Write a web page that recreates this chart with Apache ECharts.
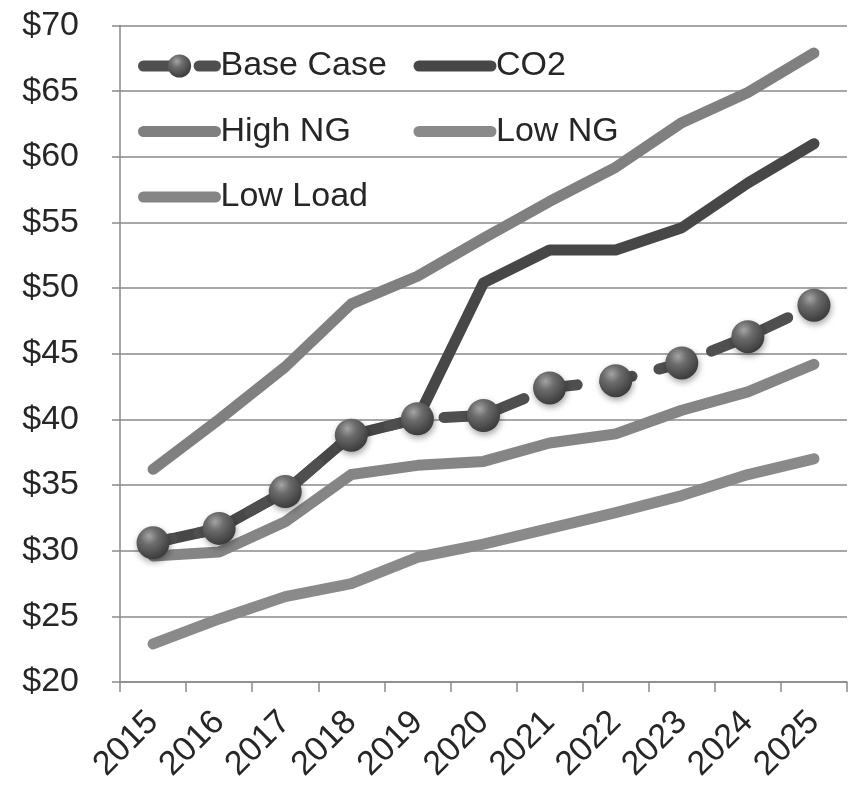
<!DOCTYPE html>
<html>
<head>
<meta charset="utf-8">
<script src="https://cdn.jsdelivr.net/npm/echarts@6/dist/echarts.min.js"></script>
<style>
  html, body { margin: 0; padding: 0; background: #ffffff; }
  #chart { width: 849px; height: 787px; }
</style>
</head>
<body>
<div id="chart"></div>
<script>
// Wholesale price forecasts by scenario, $/MWh
const years = ['2015', '2016', '2017', '2018', '2019', '2020', '2021', '2022', '2023', '2024', '2025'];
const baseCase = [30.6, 31.7, 34.5, 38.8, 40.05, 40.3, 42.4, 42.95, 44.3, 46.3, 48.7];
const co2 = [30.6, 31.7, 34.5, 38.8, 40.05, 50.4, 52.9, 52.9, 54.6, 58.0, 61.0];
const highNG = [36.2, 40.0, 44.0, 48.8, 50.9, 53.8, 56.6, 59.2, 62.6, 64.9, 67.9];
const lowNG = [22.9, 24.8, 26.5, 27.5, 29.5, 30.5, 31.7, 32.9, 34.2, 35.8, 37.0];
const lowLoad = [29.6, 29.9, 32.2, 35.8, 36.5, 36.8, 38.2, 38.9, 40.7, 42.1, 44.2];
const yTicks = { min: 20, max: 70, step: 5 };

const FONT = '"Liberation Sans", Arial, sans-serif';
const LINE_W = 11;

// shaded ball used for the Base Case markers
const ball = {
  type: 'radial', x: 0.38, y: 0.3, r: 0.75,
  colorStops: [
    { offset: 0, color: '#a4a4a4' },
    { offset: 0.35, color: '#6c6c6c' },
    { offset: 0.8, color: '#474747' },
    { offset: 1, color: '#383838' }
  ]
};

function plainLine(name, data, color) {
  return {
    name, type: 'line', data, symbol: 'none',
    lineStyle: { color, width: LINE_W, cap: 'round', join: 'round' },
    itemStyle: { color },
    emphasis: { disabled: true }
  };
}

const chart = echarts.init(document.getElementById('chart'), null, { renderer: 'canvas' });

const legendCommon = {
  orient: 'vertical',
  top: 44,
  itemWidth: 72,
  itemHeight: 29,
  itemGap: 31.5,
  selectedMode: false,
  textStyle: { fontFamily: FONT, fontSize: 34, color: '#262626' },
  lineStyle: { width: LINE_W, dashOffset: 0 }
};
const hideMark = { opacity: 0 };

chart.setOption({
  animation: false,
  backgroundColor: '#ffffff',
  grid: { left: 120, right: 2, top: 25.5, bottom: 105, containLabel: false },
  legend: [
    Object.assign({}, legendCommon, {
      left: 133,
      data: [
        { name: 'Base Case' },
        { name: 'High NG', itemStyle: hideMark },
        { name: 'Low Load', itemStyle: hideMark }
      ]
    }),
    Object.assign({}, legendCommon, {
      left: 408.5,
      data: [
        { name: 'CO2', itemStyle: hideMark },
        { name: 'Low NG', itemStyle: hideMark }
      ]
    })
  ],
  xAxis: {
    type: 'category',
    data: years,
    boundaryGap: true,
    axisLine: { show: true, lineStyle: { color: '#8a8a8a', width: 1.5 } },
    axisTick: { show: true, interval: 0, length: 10, lineStyle: { color: '#8a8a8a', width: 1.5 } },
    axisLabel: { interval: 0, rotate: 45, margin: 35, fontFamily: FONT, fontSize: 34, color: '#262626' },
    splitLine: { show: false }
  },
  yAxis: {
    type: 'value',
    min: yTicks.min, max: yTicks.max, interval: yTicks.step,
    axisLine: { show: true, lineStyle: { color: '#8a8a8a', width: 1.5 } },
    axisTick: { show: true, length: 8, lineStyle: { color: '#8a8a8a', width: 1.5 } },
    axisLabel: { margin: 41, fontFamily: FONT, fontSize: 34, color: '#262626', formatter: v => '$' + v },
    splitLine: { show: true, lineStyle: { color: '#8a8a8a', width: 1.5 } }
  },
  series: [
    plainLine('CO2', co2, '#474747'),
    plainLine('High NG', highNG, '#808080'),
    plainLine('Low NG', lowNG, '#8a8a8a'),
    plainLine('Low Load', lowLoad, '#858585'),
    {
      name: 'Base Case', type: 'line', data: baseCase,
      symbol: 'circle', symbolSize: 33, showSymbol: true,
      lineStyle: { color: '#4f4f4f', width: LINE_W, type: [27.8, 27.8], dashOffset: 8.7, cap: 'round', join: 'round' },
      itemStyle: {
        color: ball,
        shadowBlur: 6, shadowColor: 'rgba(0,0,0,0.35)', shadowOffsetX: 1, shadowOffsetY: 3
      },
      emphasis: { disabled: true },
      z: 5
    }
  ]
});
</script>
</body>
</html>
